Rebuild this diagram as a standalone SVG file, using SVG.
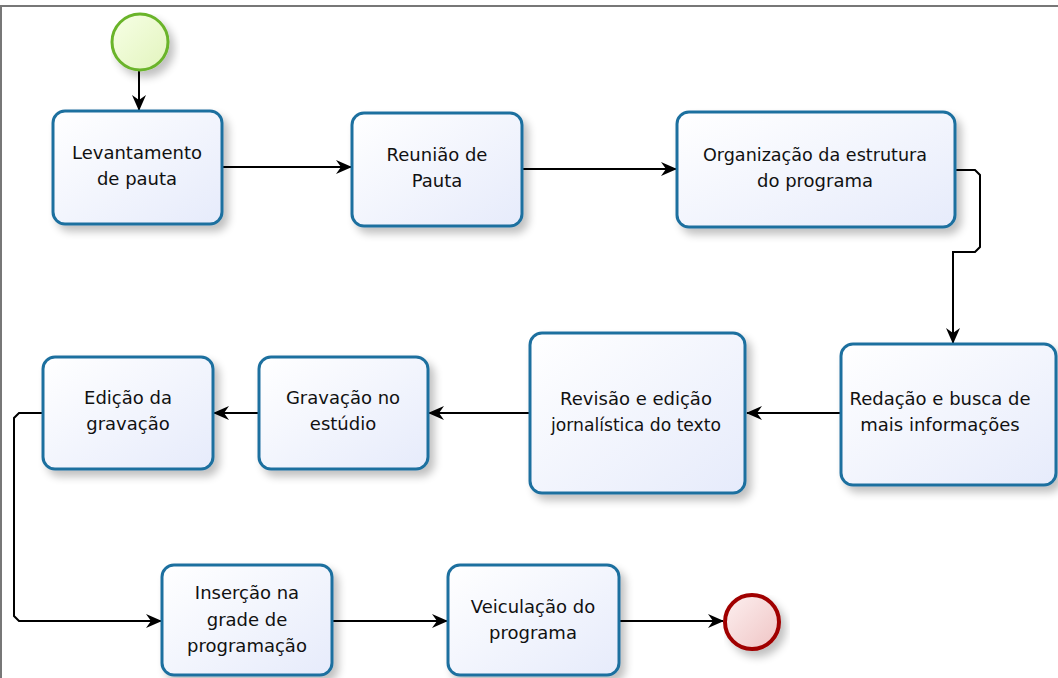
<svg xmlns="http://www.w3.org/2000/svg" width="1058" height="678" viewBox="0 0 1058 678">
<defs>
<linearGradient id="boxFill" x1="0" y1="0" x2="1" y2="1">
<stop offset="0" stop-color="#ffffff"/>
<stop offset="1" stop-color="#e6ebfb"/>
</linearGradient>
<linearGradient id="startFill" x1="0" y1="0" x2="1" y2="1">
<stop offset="0" stop-color="#f7ffe6"/>
<stop offset="1" stop-color="#e2f4bd"/>
</linearGradient>
<linearGradient id="endFill" x1="0" y1="0" x2="1" y2="1">
<stop offset="0" stop-color="#fdf0f0"/>
<stop offset="1" stop-color="#efc4c4"/>
</linearGradient>
<filter id="shadow" x="-10%" y="-10%" width="130%" height="140%">
<feGaussianBlur in="SourceAlpha" stdDeviation="4"/>
<feOffset dx="5" dy="6" result="b"/>
<feComponentTransfer><feFuncA type="linear" slope="0.25"/></feComponentTransfer>
<feMerge><feMergeNode/><feMergeNode in="SourceGraphic"/></feMerge>
</filter>
<marker id="arrow" viewBox="0 0 16 14" refX="15" refY="7" markerWidth="16" markerHeight="14" markerUnits="userSpaceOnUse" orient="auto">
<path d="M0,0 L16,7 L0,14 L5,7 Z" fill="#000"/>
</marker>
</defs>
<style>
.box{fill:url(#boxFill);stroke:#1f6f9f;stroke-width:3;filter:url(#shadow)}
.lbl{font-family:"DejaVu Sans",sans-serif;font-size:18px;fill:#111;text-anchor:middle}
.conn{fill:none;stroke:#000;stroke-width:2;marker-end:url(#arrow)}
</style>
<rect x="0" y="0" width="1058" height="678" fill="#fff"/>
<path d="M1,678 V6 H1058" fill="none" stroke="#777" stroke-width="2"/>

<g id="connectors">
<path class="conn" d="M139,70 V110"/>
<path class="conn" d="M222,167 H351"/>
<path class="conn" d="M522,169 H676"/>
<path class="conn" d="M955,170 H975 L980,175 V247 L975,252 H953 V343"/>
<path class="conn" d="M841,413 H747"/>
<path class="conn" d="M530,413 H429"/>
<path class="conn" d="M259,413 H214"/>
<path class="conn" d="M43,413 H19 L14,418 V616 L19,621 H161"/>
<path class="conn" d="M332,621 H447"/>
<path class="conn" d="M619,621 H723"/>
</g>

<g id="start">
<circle cx="140" cy="42" r="28" fill="url(#startFill)" stroke="#6ab42a" stroke-width="3" filter="url(#shadow)"/>
</g>

<g id="levantamento">
<rect class="box" x="53" y="111" width="169" height="113" rx="12"/>
<text class="lbl" x="137" y="159">Levantamento</text>
<text class="lbl" x="137" y="185">de pauta</text>
</g>

<g id="reuniao">
<rect class="box" x="352" y="113" width="170" height="113" rx="12"/>
<text class="lbl" x="437" y="161">Reunião de</text>
<text class="lbl" x="437" y="187">Pauta</text>
</g>

<g id="organizacao">
<rect class="box" x="677" y="112" width="278" height="115" rx="12"/>
<text class="lbl" x="815" y="161" textLength="224" lengthAdjust="spacingAndGlyphs">Organização da estrutura</text>
<text class="lbl" x="815" y="187">do programa</text>
</g>

<g id="redacao">
<rect class="box" x="841" y="344" width="215" height="141" rx="12"/>
<text class="lbl" x="940" y="405">Redação e busca de</text>
<text class="lbl" x="940" y="431">mais informações</text>
</g>

<g id="revisao">
<rect class="box" x="530" y="333" width="215" height="160" rx="12"/>
<text class="lbl" x="636" y="405">Revisão e edição</text>
<text class="lbl" x="636" y="431" textLength="170" lengthAdjust="spacingAndGlyphs">jornalística do texto</text>
</g>

<g id="gravacao">
<rect class="box" x="259" y="357" width="169" height="112" rx="12"/>
<text class="lbl" x="343" y="404">Gravação no</text>
<text class="lbl" x="343" y="430">estúdio</text>
</g>

<g id="edicao">
<rect class="box" x="43" y="357" width="170" height="112" rx="12"/>
<text class="lbl" x="128" y="404">Edição da</text>
<text class="lbl" x="128" y="430">gravação</text>
</g>

<g id="insercao">
<rect class="box" x="162" y="565" width="170" height="110" rx="12"/>
<text class="lbl" x="247" y="599">Inserção na</text>
<text class="lbl" x="247" y="626">grade de</text>
<text class="lbl" x="247" y="652">programação</text>
</g>

<g id="veiculacao">
<rect class="box" x="448" y="565" width="171" height="110" rx="12"/>
<text class="lbl" x="533" y="613">Veiculação do</text>
<text class="lbl" x="533" y="639">programa</text>
</g>

<g id="end">
<circle cx="752" cy="622" r="27" fill="url(#endFill)" stroke="#a00000" stroke-width="4" filter="url(#shadow)"/>
</g>
</svg>
